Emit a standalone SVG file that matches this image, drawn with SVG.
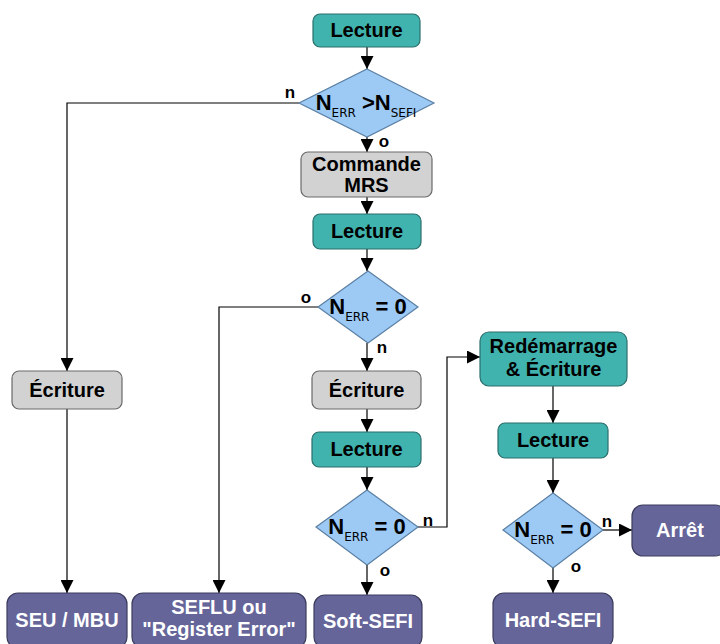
<svg xmlns="http://www.w3.org/2000/svg" width="720" height="644" viewBox="0 0 720 644">
<style>
text{font-family:"Liberation Sans",Arial,sans-serif;font-weight:bold;font-size:20px;text-anchor:middle}
.teal{fill:#40b3ae;stroke:#2b6f6c;stroke-width:1.2}
.gray{fill:#d2d2d2;stroke:#6a6a6a;stroke-width:1.2}
.dia{fill:#9ccaf5;stroke:#5b7fa3;stroke-width:1.2}
.pur{fill:#65659a;stroke:#3c3c5e;stroke-width:1.2}
.wt{fill:#fff}
.dt{font-size:22px}
.sub{font-size:12px;font-weight:normal;font-family:"DejaVu Sans",sans-serif}
.lbl{font-size:17px;text-anchor:middle}
.c{fill:none;stroke:#000;stroke-width:1.2}
</style>
<defs>
<marker id="ah" viewBox="0 0 13 13" refX="13" refY="6.5" markerWidth="13" markerHeight="13" markerUnits="userSpaceOnUse" orient="auto">
<path d="M0,0 L13,6.5 L0,13 Z" fill="#000"/>
</marker>
</defs>
<rect width="720" height="644" fill="#fff"/>
<g id="connectors">
<path class="c" d="M367,47 V69" marker-end="url(#ah)"/>
<path class="c" d="M367,137 V152" marker-end="url(#ah)"/>
<path class="c" d="M367,197 V214" marker-end="url(#ah)"/>
<path class="c" d="M367,249 V271" marker-end="url(#ah)"/>
<path class="c" d="M367,343 V371" marker-end="url(#ah)"/>
<path class="c" d="M367,409 V432" marker-end="url(#ah)"/>
<path class="c" d="M367,467 V490" marker-end="url(#ah)"/>
<path class="c" d="M367,565 V595" marker-end="url(#ah)"/>
<path class="c" d="M299,103 H67 V371" marker-end="url(#ah)"/>
<path class="c" d="M67,409 V593" marker-end="url(#ah)"/>
<path class="c" d="M318,307 H219 V593" marker-end="url(#ah)"/>
<path class="c" d="M418,527 H447 V357 H480" marker-end="url(#ah)"/>
<path class="c" d="M553,386 V423" marker-end="url(#ah)"/>
<path class="c" d="M553,458 V493" marker-end="url(#ah)"/>
<path class="c" d="M553,568 V593" marker-end="url(#ah)"/>
<path class="c" d="M603,530 H632" marker-end="url(#ah)"/>
<text class="lbl" x="290" y="98">n</text>
<text class="lbl" x="384" y="147">o</text>
<text class="lbl" x="306" y="303">o</text>
<text class="lbl" x="382" y="353">n</text>
<text class="lbl" x="428" y="526">n</text>
<text class="lbl" x="385" y="576">o</text>
<text class="lbl" x="607" y="527">n</text>
<text class="lbl" x="576" y="572">o</text>
</g>
<g id="lecture1"><rect class="teal" x="313" y="14" width="107" height="33" rx="7"/><text x="366.5" y="37">Lecture</text></g>
<g id="decision1"><polygon class="dia" points="367,69 434,103 367,137 299,103"/>
<text class="dt" x="366" y="110"><tspan>N</tspan><tspan class="sub" dy="7">ERR</tspan><tspan dy="-7"> &gt;N</tspan><tspan class="sub" dy="7">SEFI</tspan></text></g>
<g id="commande"><rect class="gray" x="301" y="152" width="131" height="45" rx="7"/><text x="366.5" y="171">Commande</text><text x="366.5" y="192">MRS</text></g>
<g id="lecture2"><rect class="teal" x="313" y="214" width="108" height="35" rx="7"/><text x="367" y="238">Lecture</text></g>
<g id="decision2"><polygon class="dia" points="368,271 418,307 368,343 318,307"/>
<text class="dt" x="368" y="314"><tspan>N</tspan><tspan class="sub" dy="7">ERR</tspan><tspan dy="-7"> = 0</tspan></text></g>
<g id="ecriture1"><rect class="gray" x="12" y="371" width="110" height="38" rx="7"/><text x="67" y="397">Écriture</text></g>
<g id="ecriture2"><rect class="gray" x="312" y="371" width="109" height="38" rx="7"/><text x="366.5" y="397">Écriture</text></g>
<g id="lecture3"><rect class="teal" x="312" y="432" width="109" height="35" rx="7"/><text x="366.5" y="456">Lecture</text></g>
<g id="decision3"><polygon class="dia" points="367,490 418,527 367,565 316,527"/>
<text class="dt" x="367" y="534"><tspan>N</tspan><tspan class="sub" dy="7">ERR</tspan><tspan dy="-7"> = 0</tspan></text></g>
<g id="redemarrage"><rect class="teal" x="480" y="332" width="147" height="54" rx="9"/><text x="553.5" y="353">Redémarrage</text><text x="553.5" y="376">&amp; Écriture</text></g>
<g id="lecture4"><rect class="teal" x="498" y="423" width="110" height="35" rx="7"/><text x="553" y="447">Lecture</text></g>
<g id="decision4"><polygon class="dia" points="553,493 603,530 553,568 503,530"/>
<text class="dt" x="553" y="537"><tspan>N</tspan><tspan class="sub" dy="7">ERR</tspan><tspan dy="-7"> = 0</tspan></text></g>
<g id="arret"><rect class="pur" x="632" y="505" width="94" height="51" rx="11"/><text class="wt" x="680" y="537">Arrêt</text></g>
<g id="seu"><rect class="pur" x="7" y="593" width="120" height="55" rx="11"/><text class="wt" x="67" y="627">SEU / MBU</text></g>
<g id="seflu"><rect class="pur" x="132" y="593" width="174" height="55" rx="11"/><text class="wt" x="219" y="614">SEFLU ou</text><text class="wt" x="219" y="636">"Register Error"</text></g>
<g id="softsefi"><rect class="pur" x="314" y="595" width="108" height="53" rx="11"/><text class="wt" x="368" y="628">Soft-SEFI</text></g>
<g id="hardsefi"><rect class="pur" x="493" y="593" width="120" height="55" rx="11"/><text class="wt" x="553" y="627">Hard-SEFI</text></g>
</svg>
